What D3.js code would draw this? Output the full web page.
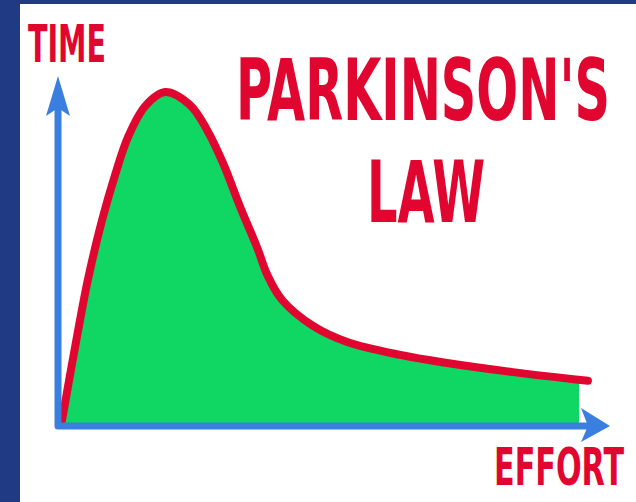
<!DOCTYPE html>
<html>
<head>
<meta charset="utf-8">
<script src="https://cdn.jsdelivr.net/npm/d3@7"></script>
<style>
  html, body { margin: 0; padding: 0; background: #213a84; }
  svg { display: block; }
</style>
</head>
<body>
<svg width="636" height="502"></svg>
<script>
// curve data (effort 0-100, time 0-100)
var effort = [0.7, 3.1, 5.4, 8.0, 10.3, 12.7, 15.8, 19.4, 23.9, 27.0, 29.9, 33.0, 36.1, 38.0, 40.6, 46.2, 52.4, 62, 70.5, 82.4, 96];
var time = [1.4, 22.6, 41.7, 58.9, 71.5, 82.6, 91.4, 95.4, 91.7, 84.6, 75.1, 62.6, 50.9, 42.9, 36, 28.6, 24, 20.3, 18, 15.4, 12.9];
var fillEnd = 94.4;
var titleLines = ["PARKINSON'S", "LAW"];
var yLabel = "TIME";
var xLabel = "EFFORT";

var svg = d3.select("svg"),
  width = +svg.attr("width"),
  height = +svg.attr("height");

var red = "#e1062f",
  green = "#10d764",
  blue = "#3a7fe0";

svg.append("rect").attr("width", width).attr("height", height).attr("fill", "#213a84");
svg.append("rect").attr("x", 20).attr("y", 4).attr("width", width - 20).attr("height", height - 4).attr("fill", "#ffffff");

var xScale = d3.scaleLinear().domain([0, 100]).range([58, 610]);
var yScale = d3.scaleLinear().domain([0, 100]).range([426, 76]);

var pts = effort.map(function (e, i) { return [e, time[i]]; });

svg.append("clipPath").attr("id", "fillclip")
  .append("rect")
  .attr("x", 0).attr("y", 0)
  .attr("width", xScale(fillEnd)).attr("height", height);

var area = d3.area()
  .x(function (d) { return xScale(d[0]); })
  .y0(yScale(0))
  .y1(function (d) { return yScale(d[1]); })
  .curve(d3.curveCatmullRom);

svg.append("path")
  .datum(pts)
  .attr("d", area)
  .attr("fill", green)
  .attr("clip-path", "url(#fillclip)");

var line = d3.line()
  .x(function (d) { return xScale(d[0]); })
  .y(function (d) { return yScale(d[1]); })
  .curve(d3.curveCatmullRom);

svg.append("path")
  .datum(pts)
  .attr("d", line)
  .attr("fill", "none")
  .attr("stroke", red)
  .attr("stroke-width", 8)
  .attr("stroke-linecap", "round");

// axes
var x0 = xScale(0), y0 = yScale(0);
svg.append("path")
  .attr("d", "M" + x0 + "," + (yScale(100) + 30) + "L" + x0 + "," + y0 + "L" + (xScale(100) - 22) + "," + y0)
  .attr("fill", "none")
  .attr("stroke", blue)
  .attr("stroke-width", 7)
  .attr("stroke-linejoin", "round");

var ty = yScale(100);
svg.append("path")
  .attr("d", "M" + x0 + "," + ty + "L" + (x0 + 12) + "," + (ty + 40) + "L" + x0 + "," + (ty + 32) + "L" + (x0 - 12) + "," + (ty + 40) + "Z")
  .attr("fill", blue);

var tx = xScale(100);
svg.append("path")
  .attr("d", "M" + tx + "," + y0 + "L" + (tx - 29) + "," + (y0 - 18) + "L" + (tx - 22) + "," + y0 + "L" + (tx - 29) + "," + (y0 + 16) + "Z")
  .attr("fill", blue);

// texts
function label(str, x, y, size, len) {
  svg.append("text")
    .attr("x", x)
    .attr("y", y)
    .attr("font-family", "'DejaVu Sans Condensed', 'DejaVu Sans', sans-serif")
    .attr("font-weight", "bold")
    .attr("font-size", size)
    .attr("fill", red)
    .attr("textLength", len)
    .attr("lengthAdjust", "spacingAndGlyphs")
    .text(str);
}

label(titleLines[0], 236, 120, 86, 374);
label(titleLines[1], 367, 222, 86, 118);
label(yLabel, 28, 62, 51, 78);
label(xLabel, 494, 485, 51, 130);
</script>
</body>
</html>
